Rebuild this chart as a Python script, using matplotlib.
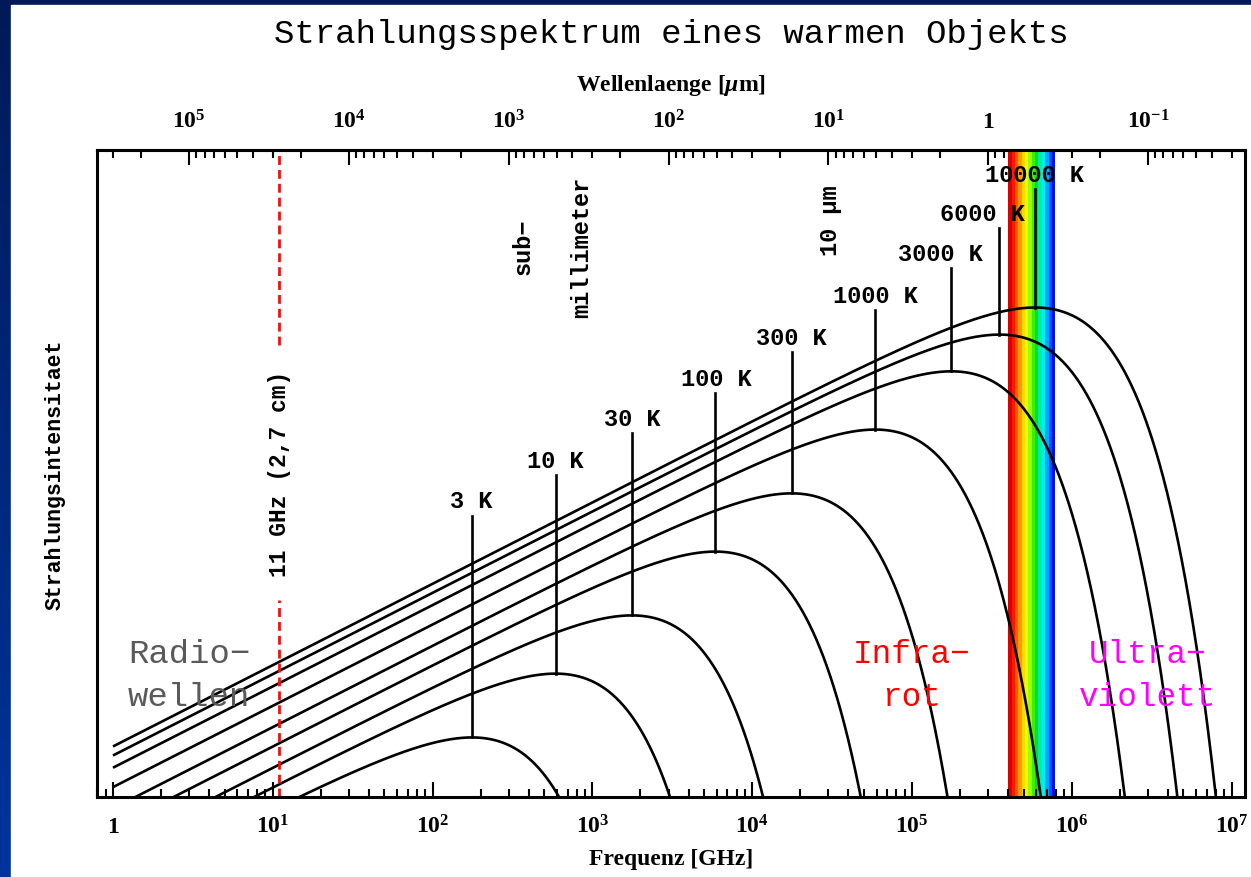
import numpy as np
import matplotlib
matplotlib.use("Agg")
import matplotlib.pyplot as plt
import matplotlib.transforms as mtransforms
from matplotlib.patches import Rectangle
from matplotlib.ticker import FixedLocator, FuncFormatter, NullFormatter

# ---- data -------------------------------------------------------------
temperatures_K = [3, 10, 30, 100, 300, 1000, 3000, 6000, 10000]
temperature_labels = ["3 K", "10 K", "30 K", "100 K", "300 K",
                      "1000 K", "3000 K", "6000 K", "10000 K"]
marker_freq_GHz = 11.0
marker_label = "11 GHz (2,7 cm)"
visible_band_um = (0.38, 0.75)
freq_tick_exponents = list(range(0, 8))
wave_tick_exponents = list(range(-1, 6))

# ---- physics ----------------------------------------------------------
H = 6.62607015e-34
KB = 1.380649e-23
C = 2.99792458e8
C_UM_GHZ = 2.99792458e5          # lambda[um] * nu[GHz]
WIEN_X = 2.8214393721


def planck(nu_ghz, T):
    nu = nu_ghz * 1e9
    with np.errstate(over="ignore"):
        return 2 * H * nu**3 / C**2 / np.expm1(H * nu / (KB * T))


def peak_freq_ghz(T):
    return WIEN_X * KB * T / H / 1e9


# ---- fonts ------------------------------------------------------------
plt.rcParams["mathtext.fontset"] = "custom"
plt.rcParams["mathtext.rm"] = "Liberation Serif:bold"
plt.rcParams["mathtext.bf"] = "Liberation Serif:bold"
plt.rcParams["mathtext.it"] = "Liberation Serif:bold:italic"
plt.rcParams["font.family"] = "Liberation Serif"

MONO = "Liberation Mono"

fig = plt.figure(figsize=(12.51, 8.77), dpi=100)

# slide-style backdrop: blue frame with a white panel
bg = fig.add_axes([0, 0, 1, 1], zorder=-10)
grad = np.linspace(0, 1, 256)[:, None]
top_col = np.array([0x00, 0x1a, 0x58]) / 255
bot_col = np.array([0x00, 0x34, 0x9c]) / 255
img = top_col[None, None, :] * (1 - grad[:, :, None]) + bot_col[None, None, :] * grad[:, :, None]
bg.imshow(img, extent=[0, 1, 0, 1], aspect="auto", origin="upper")
bg.add_patch(Rectangle((11 / 1251, 0), 1, (877 - 5) / 877, color="white"))
bg.set_xlim(0, 1)
bg.set_ylim(0, 1)
bg.axis("off")

ax = fig.add_axes([97 / 1251, 80 / 877, 1148 / 1251, 647 / 877])
ax.set_xscale("log")
ax.set_yscale("log")
ylog_min, ylog_max = -18.755, -2.85
ax.set_xlim(10**-0.1, 10**7.084)
ax.set_ylim(10**ylog_min, 10**ylog_max)


def axes_frac_to_data_y(f):
    return 10 ** (ylog_min + f * (ylog_max - ylog_min))


# visible light band
band_cols = ["#d80000", "#ff1800", "#ff5a00", "#ff9a00", "#ffd800", "#e8ff00",
             "#9cff00", "#3cf000", "#00e030", "#00f0a0", "#00f0f0", "#00a8ff",
             "#0050ff", "#0010f0"]
nu_lo = C_UM_GHZ / visible_band_um[1]
nu_hi = C_UM_GHZ / visible_band_um[0]
edges = np.logspace(np.log10(nu_lo), np.log10(nu_hi), len(band_cols) + 1)
for i, col in enumerate(band_cols):
    ax.axvspan(edges[i], edges[i + 1], color=col, lw=0, zorder=1)

# Planck curves
nu = np.logspace(0, 7.2, 4000)
for T in temperatures_K:
    ax.plot(nu, planck(nu, T), color="black", lw=1.9, zorder=3,
            solid_capstyle="butt")

# temperature labels with pointer lines
label_y_frac = [0.456, 0.518, 0.583, 0.645, 0.709, 0.773, 0.838, 0.900, 0.960]
label_dx_dec = [-0.005, 0.0, 0.0, 0.006, 0.0, 0.0, -0.07, -0.107, 0.0]
blend = mtransforms.blended_transform_factory(ax.transData, ax.transAxes)
for T, lab, fy, dx in zip(temperatures_K, temperature_labels, label_y_frac, label_dx_dec):
    nup = peak_freq_ghz(T)
    bp = planck(nup, T)
    ax.plot([nup, nup], [bp, axes_frac_to_data_y(fy - 0.021)],
            color="black", lw=1.9, zorder=3)
    ax.text(nup * 10**dx, fy, lab, transform=blend, ha="center", va="center",
            family=MONO, weight="bold", fontsize=17, zorder=5)

# 11 GHz marker
ax.plot([marker_freq_GHz] * 2, [axes_frac_to_data_y(0.699), 10**ylog_max],
        color="#f01010", lw=2.0, ls=(0, (3.2, 1.8)), zorder=4)
ax.plot([marker_freq_GHz] * 2, [10**ylog_min, axes_frac_to_data_y(0.3045)],
        color="#f01010", lw=2.0, ls=(0, (3.2, 1.8)), zorder=4)
ax.text(marker_freq_GHz, 0.50, marker_label, transform=blend, rotation=90,
        ha="center", va="center", family=MONO, weight="bold", fontsize=16.5,
        zorder=5)

# band annotations
ax.text(368, 0.850, "sub\u2212", transform=blend, rotation=90, ha="center",
        va="center", family=MONO, weight="bold", fontsize=17, zorder=5)
ax.text(861, 0.850, "millimeter", transform=blend, rotation=90, ha="center",
        va="center", family=MONO, weight="bold", fontsize=17, zorder=5)
ax.text(3.07e4, 0.890, "10 \u03bcm", transform=blend, rotation=90, ha="center",
        va="center", family=MONO, weight="bold", fontsize=17, zorder=5)

ax.text(2.99, 0.187, "Radio\u2212\nwellen", transform=blend, ha="center",
        va="center", family=MONO, fontsize=24.5, color="#5a5a5a",
        linespacing=1.5, zorder=5)
ax.text(1.0e5, 0.187, "Infra\u2212\nrot", transform=blend, ha="center",
        va="center", family=MONO, fontsize=23.5, color="#ff0000",
        linespacing=1.5, zorder=5)
ax.text(3.0e6, 0.187, "Ultra\u2212\nviolett", transform=blend, ha="center",
        va="center", family=MONO, fontsize=23.5, color="#ff00ff",
        linespacing=1.5, zorder=5)


# ---- axes styling -----------------------------------------------------
def pow_fmt(v, _pos):
    e = int(round(np.log10(v)))
    if e == 0:
        return r"$\mathbf{1}$"
    return r"$\mathbf{10^{%d}}$" % e


for s in ax.spines.values():
    s.set_linewidth(2.2)
    s.set_zorder(6)

ax.xaxis.set_major_locator(FixedLocator([10.0**e for e in freq_tick_exponents]))
ax.xaxis.set_minor_locator(FixedLocator(
    [m * 10.0**e for e in range(-1, 8) for m in range(2, 10)]))
ax.xaxis.set_major_formatter(FuncFormatter(pow_fmt))
ax.xaxis.set_minor_formatter(NullFormatter())
ax.tick_params(axis="x", which="major", direction="in", length=11, width=1.5,
               labelsize=17, pad=26)
ax.tick_params(axis="x", which="minor", direction="in", length=5.5, width=1.5)
ax.tick_params(axis="x", which="both", top=False)
ax.yaxis.set_major_locator(FixedLocator([]))
ax.yaxis.set_minor_locator(FixedLocator([]))
ax.tick_params(axis="y", left=False, right=False, labelleft=False)
# put the frequency labels on a common baseline
for tk in ax.xaxis.get_major_ticks(len(freq_tick_exponents)):
    tk.label1.set_verticalalignment("baseline")

sec = ax.secondary_xaxis("top", functions=(lambda x: C_UM_GHZ / x,
                                           lambda x: C_UM_GHZ / x))
sec.xaxis.set_major_locator(FixedLocator([10.0**e for e in wave_tick_exponents]))
sec.xaxis.set_minor_locator(FixedLocator(
    [m * 10.0**e for e in range(-2, 7) for m in range(2, 10)]))
sec.xaxis.set_major_formatter(FuncFormatter(pow_fmt))
sec.xaxis.set_minor_formatter(NullFormatter())
sec.tick_params(axis="x", which="major", direction="in", length=11, width=1.5,
                labelsize=17, pad=12)
sec.tick_params(axis="x", which="minor", direction="in", length=5.5, width=1.5)
sec.spines["top"].set_linewidth(2.2)

# ---- titles and axis labels -------------------------------------------
xc = (97 + 1245) / 2 / 1251
fig.text(xc, 1 - 35 / 877, "Strahlungsspektrum eines warmen Objekts",
         ha="center", va="center", family=MONO, fontsize=24.5)
fig.text(xc, 1 - 85 / 877, r"Wellenlaenge [$\mu$m]", ha="center", va="center",
         fontsize=17, weight="bold")
fig.text(xc, 1 - 860 / 877, "Frequenz [GHz]", ha="center", va="center",
         fontsize=17, weight="bold")
fig.text(55 / 1251, 1 - 475 / 877, "Strahlungsintensitaet", rotation=90,
         ha="center", va="center", family=MONO, weight="bold", fontsize=15.5)

fig.savefig("out.png", dpi=100)
